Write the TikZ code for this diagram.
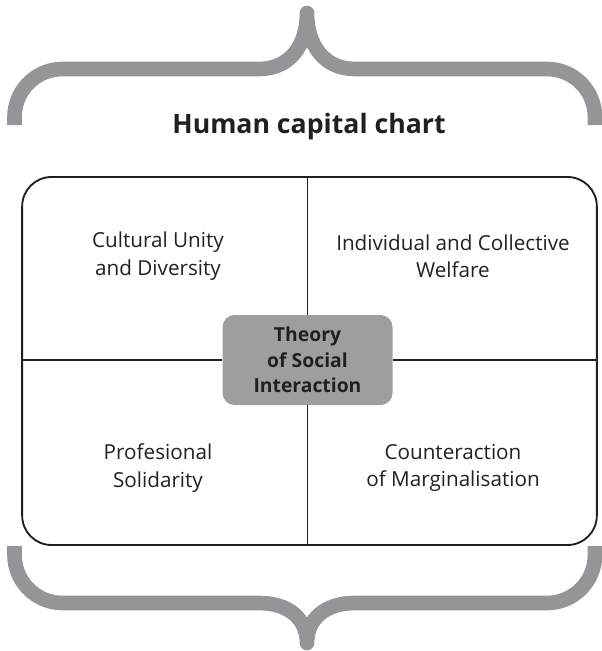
\documentclass[tikz,border=0pt]{standalone}
\usepackage{fontspec}
\setmainfont{Open Sans}
\definecolor{bracegray}{HTML}{939598}
\definecolor{hubgray}{HTML}{9D9EA0}
\definecolor{inkgray}{HTML}{231F20}
\tikzset{
	% Braces around the chart
	brace/.style={draw=bracegray,line width=11pt,line join=round,line cap=butt},
	% Quadrant labels
	quad/.style={align=center,font=\fontsize{15.5}{20.5}\selectfont,text=inkgray},
	% Dividing lines
	divider/.style={draw=inkgray,line width=1.1pt}
}

\begin{document}
\begin{tikzpicture}[x=0.75pt,y=-0.75pt]
	\useasboundingbox (0,0) rectangle (602,651);
	% top brace
	\draw[brace] (14.5,125) -- (14.5,117) arc[start angle=180,end angle=270,radius=48] -- (259,69)
		.. controls (290,69) and (307,45) .. (307,13)
		.. controls (307,45) and (324,69) .. (355,69) -- (547,69)
		arc[start angle=270,end angle=360,radius=48] -- (595,125);
	% bottom brace
	\draw[brace] (14.5,546) -- (14.5,555) arc[start angle=180,end angle=90,radius=48] -- (259,603)
		.. controls (290,603) and (307,620) .. (307,643)
		.. controls (307,620) and (324,603) .. (355,603) -- (547,603)
		arc[start angle=90,end angle=0,radius=48] -- (595,546);
	\node[font=\fontsize{20}{24}\selectfont\bfseries,text=inkgray] (title) at (309,127) {Human capital chart};
	% frame and quadrants
	\node[draw=inkgray,line width=1.4pt,rounded corners=22pt,minimum width=431pt,minimum height=276pt] (frame) at (309.5,361) {};
	\node[quad] (unity) at (158,256) {Cultural Unity\\and Diversity};
	\node[quad] (welfare) at (453,256) {Individual and Collective\\Welfare};
	\node[quad] (solidarity) at (158,468) {Profesional\\Solidarity};
	\node[quad] (margin) at (453,468) {Counteraction\\of Marginalisation};
	\node[fill=hubgray,rounded corners=9pt,minimum width=127.5pt,minimum height=67.5pt,align=center,
		font=\fontsize{14.5}{19}\selectfont\bfseries,text=inkgray] (hub) at (307.5,360) {Theory\\of Social\\Interaction};
	\draw[divider] (frame.north -| hub.north) -- (hub.north);
	\draw[divider] (hub.south) -- (frame.south -| hub.south);
	\draw[divider] (frame.west |- hub.west) -- (hub.west);
	\draw[divider] (hub.east) -- (frame.east |- hub.east);
\end{tikzpicture}
\end{document}
